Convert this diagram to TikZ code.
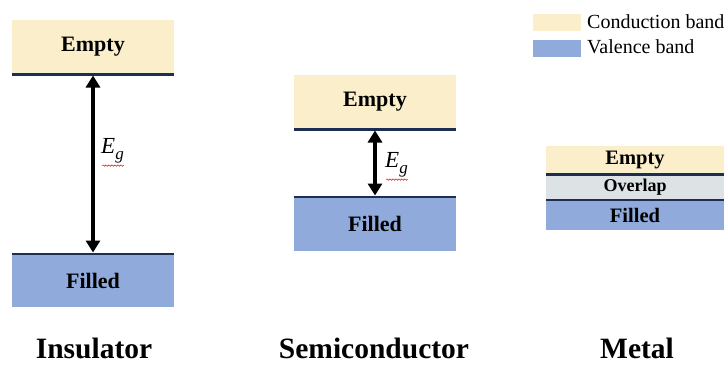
\documentclass[tikz,border=0pt]{standalone}
\usepackage{fontspec}
\setmainfont{Liberation Serif}
\usetikzlibrary{arrows.meta,decorations.pathmorphing}
\definecolor{cband}{HTML}{FBEFCB}
\definecolor{vband}{HTML}{8FAADB}
\definecolor{ovband}{HTML}{DDE2E4}
\definecolor{edge}{HTML}{1C2F52}
\begin{document}
\begin{tikzpicture}[x=1pt,y=-1pt,
  band/.style={rectangle,inner sep=0pt,draw=none,font=\fontsize{22}{22}\selectfont\bfseries},
  cb/.style={band,fill=cband},
  vb/.style={band,fill=vband},
  mband/.style={font=\fontsize{20.5}{20.5}\selectfont\bfseries},
  ob/.style={band,fill=ovband,font=\fontsize{18}{18}\selectfont\bfseries},
  edgeline/.style={draw=edge,line width=2.6pt},
  gap/.style={{Triangle[width=14pt,length=12pt]}-{Triangle[width=14pt,length=12pt]},line width=3.2pt,black},
  eglabel/.style={anchor=west,inner sep=0pt},
  title/.style={anchor=base,inner sep=0pt,font=\fontsize{29.5}{29.5}\selectfont\bfseries},
  legtext/.style={anchor=west,inner sep=0pt,font=\fontsize{20}{20}\selectfont},
  swatch/.style={rectangle,inner sep=0pt,minimum width=48,minimum height=17},
  squiggle/.style={draw=red!80!black,line width=0.5pt,decorate,decoration={snake,amplitude=0.7pt,segment length=3pt}}
]
\useasboundingbox (0,0) rectangle (727,367);
% legend
\node[swatch,fill=cband] (lc) at (557,22.5) {};
\node[swatch,fill=vband] (lv) at (557,48) {};
\node[legtext] (lct) at (587,22) {Conduction band};
\node[legtext] (lvt) at (587,47) {Valence band};
% insulator
\node[cb,minimum width=162,minimum height=54] (ie) at (93,47) {Empty};
\node[vb,minimum width=162,minimum height=53] (if) at (93,280.5) {Filled};
\draw[edgeline] (ie.south west) -- (ie.south east);
\draw[edgeline] (if.north west) -- (if.north east);
\draw[gap,shorten <=1.3pt,shorten >=1.3pt] (ie.south) -- (if.north);
\node[eglabel] (ieg) at (101,151) {\fontsize{23}{23}\selectfont\textit{E}\raisebox{-6pt}{\fontsize{17}{17}\selectfont\textit{g}}};
\draw[squiggle] ([xshift=1pt,yshift=-2pt]ieg.south west) -- ([yshift=-2pt]ieg.south east);
% semiconductor
\node[cb,minimum width=162,minimum height=54] (se) at (375,102) {Empty};
\node[vb,minimum width=162,minimum height=54] (sf) at (375,224) {Filled};
\draw[edgeline] (se.south west) -- (se.south east);
\draw[edgeline] (sf.north west) -- (sf.north east);
\draw[gap,shorten <=1.3pt,shorten >=1.3pt] (se.south) -- (sf.north);
\node[eglabel] (seg) at (385,165) {\fontsize{23}{23}\selectfont\textit{E}\raisebox{-6pt}{\fontsize{17}{17}\selectfont\textit{g}}};
\draw[squiggle] ([xshift=1pt,yshift=-2pt]seg.south west) -- ([yshift=-2pt]seg.south east);
% metal
\node[cb,mband,minimum width=178,minimum height=28] (me) at (635,160) {Empty};
\node[ob,minimum width=178,minimum height=26] (mo) at (635,187) {Overlap};
\node[vb,mband,minimum width=178,minimum height=30] (mf) at (635,215) {Filled};
\draw[edgeline] (me.south west) -- (me.south east);
\draw[edgeline] (mf.north west) -- (mf.north east);
% titles
\node[title] (ti) at (94,358) {Insulator};
\node[title] (ts) at (374,358) {Semiconductor};
\node[title] (tm) at (637,358) {Metal};
\end{tikzpicture}
\end{document}
